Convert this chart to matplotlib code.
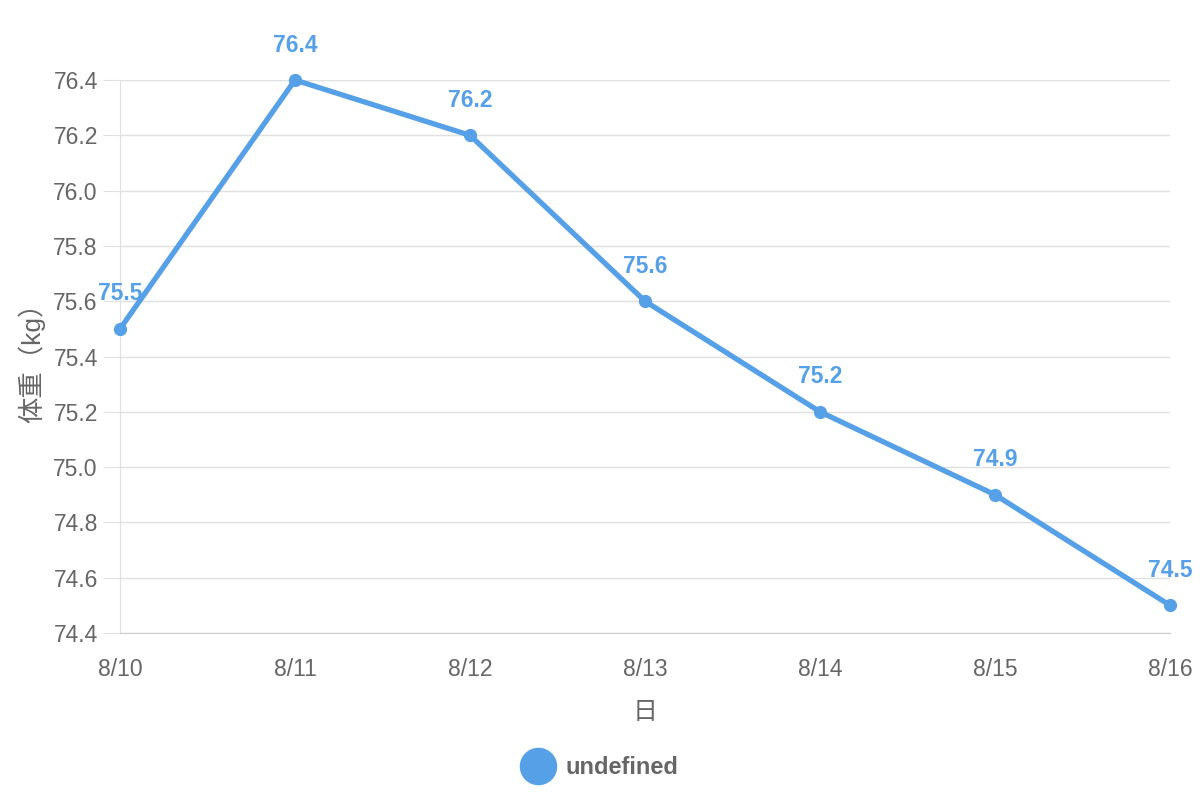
import matplotlib.pyplot as plt
from matplotlib.lines import Line2D

plt.rcParams['font.family'] = ['Liberation Sans', 'Noto Sans CJK JP', 'DejaVu Sans']

days = ['8/10', '8/11', '8/12', '8/13', '8/14', '8/15', '8/16']
weight = [75.5, 76.4, 76.2, 75.6, 75.2, 74.9, 74.5]
yticks = [74.4, 74.6, 74.8, 75.0, 75.2, 75.4, 75.6, 75.8, 76.0, 76.2, 76.4]

blue = '#55a0e6'
gray = '#666666'

fig = plt.figure(figsize=(12, 8), dpi=100)
ax = fig.add_axes([0.1, 0.20875, 0.875, 0.69125])

x = list(range(len(days)))
ax.plot(x, weight, color=blue, lw=3.8, marker='o', ms=8.5, clip_on=False, zorder=3)

for xi, v in zip(x, weight):
    ax.annotate(f'{v:.1f}', (xi, v), xytext=(0, 35), textcoords='offset pixels',
                ha='center', va='center', color=blue, fontsize=16.5, fontweight='bold',
                annotation_clip=False, zorder=4)

ax.set_xlim(0, len(days) - 1)
ax.set_ylim(74.4, 76.4)
ax.set_xticks(x)
ax.set_xticklabels(days)
ax.set_yticks(yticks)
ax.set_yticklabels([f'{t:.1f}' for t in yticks])

ax.grid(axis='y', color='#e0e0e0', lw=1)
ax.set_axisbelow(True)
for s in ['top', 'right']:
    ax.spines[s].set_visible(False)
ax.spines['left'].set_color('#e0e0e0')
ax.spines['bottom'].set_color('#cccccc')
ax.tick_params(axis='y', length=12, color='#e0e0e0', labelcolor=gray, labelsize=16.5, pad=4)
ax.tick_params(axis='x', length=0, labelcolor=gray, labelsize=16.5, pad=18)

ax.set_xlabel('日', color=gray, fontsize=18, labelpad=14)
ax.set_ylabel('体重（kg）', color=gray, fontsize=19, labelpad=6)

handle = Line2D([], [], color=blue, marker='o', ls='none', ms=26)
fig.legend([handle], ['undefined'], loc='center', bbox_to_anchor=(0.497, 0.04),
           frameon=False, handletextpad=0.2, labelcolor=gray,
           prop={'size': 17, 'weight': 'bold'})

fig.savefig('out.png', dpi=100)
